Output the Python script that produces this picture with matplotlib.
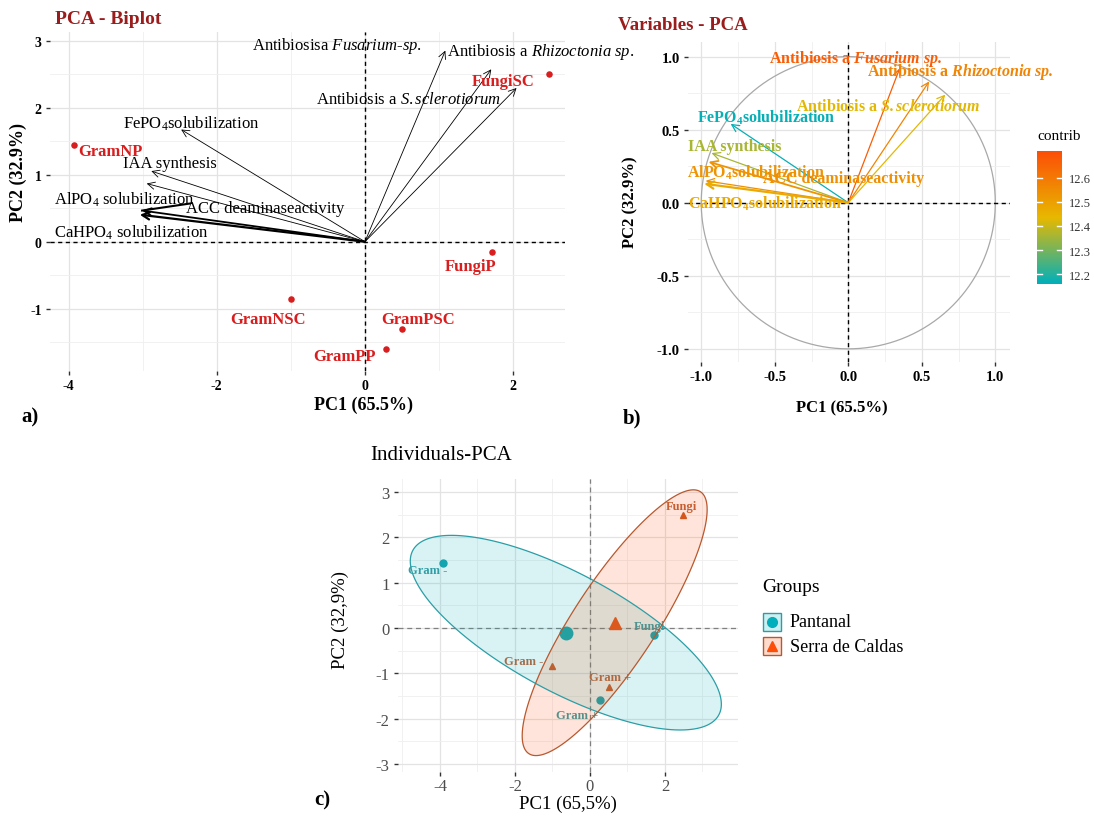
import numpy as np
import matplotlib
matplotlib.use("Agg")
import matplotlib.pyplot as plt
from matplotlib.colors import LinearSegmentedColormap, Normalize
from matplotlib.cm import ScalarMappable
from matplotlib.patches import Polygon, Rectangle
from matplotlib.lines import Line2D
from matplotlib.transforms import blended_transform_factory

plt.rcParams.update({
    "font.family": ["Liberation Serif", "DejaVu Serif"],
    "mathtext.fontset": "custom",
    "mathtext.rm": "Liberation Serif",
    "mathtext.it": "Liberation Serif:italic",
    "mathtext.bf": "Liberation Serif:bold",
    "mathtext.bfit": "Liberation Serif:bold:italic",
    "mathtext.default": "regular",
    "axes.unicode_minus": False,
})

# ---------------- data ----------------
ind_names = ["GramNP", "GramNSC", "GramPSC", "GramPP", "FungiSC", "FungiP"]
ind_type = ["Gram -", "Gram -", "Gram +", "Gram +", "Fungi", "Fungi"]
ind_group = ["Pantanal", "Serra de Caldas", "Serra de Caldas",
             "Pantanal", "Serra de Caldas", "Pantanal"]
ind_pc1 = [-3.93, -1.00, 0.50, 0.28, 2.48, 1.72]
ind_pc2 = [1.44, -0.85, -1.30, -1.60, 2.50, -0.15]

var_labels_a = [
    r"Antibiosisa $\mathit{Fusarium}$-$\mathit{sp.}$",
    r"Antibiosis a $\mathit{Rhizoctonia\ sp.}$",
    r"Antibiosis a $\mathit{S.sclerotiorum}$",
    r"FePO$_4$solubilization",
    r"IAA synthesis",
    r"AlPO$_4$ solubilization",
    r"ACC deaminaseactivity",
    r"CaHPO$_4$ solubilization",
]
var_labels_b = [
    r"Antibiosis a $\mathbfit{Fusarium\ sp.}$",
    r"Antibiosis a $\mathbfit{Rhizoctonia\ sp.}$",
    r"Antibiosis a $\mathbfit{S.sclerotiorum}$",
    r"FePO$_4$solubilization",
    r"IAA synthesis",
    r"AlPO$_4$solubilization",
    r"ACC deaminaseactivity",
    r"CaHPO$_4$solubilization",
]
var_pc1 = [0.35, 0.55, 0.66, -0.80, -0.93, -0.95, -0.97, -0.98]
var_pc2 = [0.92, 0.83, 0.74, 0.54, 0.34, 0.28, 0.15, 0.13]
var_contrib = [12.67, 12.57, 12.43, 12.17, 12.36, 12.53, 12.54, 12.47]

pc1_pct, pc2_pct = 65.5, 32.9
group_names = ["Pantanal", "Serra de Caldas"]

# ---------------- layout helpers ----------------
W, H = 1094, 820
fig = plt.figure(figsize=(W / 100, H / 100), dpi=100)


def add_ax(left, top, right, bottom):
    return fig.add_axes([left / W, 1 - bottom / H, (right - left) / W, (bottom - top) / H])


def ftext(x, y, s, **kw):
    return fig.text(x / W, 1 - y / H, s, **kw)


def minimal(ax, xmaj, xmin, ymaj, ymin, tickcolor="#333333"):
    ax.set_xticks(xmaj)
    ax.set_xticks(xmin, minor=True)
    ax.set_yticks(ymaj)
    ax.set_yticks(ymin, minor=True)
    ax.grid(which="major", color="#E3E3E3", lw=0.9)
    ax.grid(which="minor", color="#EFEFEF", lw=0.6)
    ax.set_axisbelow(True)
    for s in ax.spines.values():
        s.set_visible(False)
    ax.tick_params(which="minor", length=0)
    ax.tick_params(which="major", length=3, width=1.0, color=tickcolor, pad=3)


DARKRED = "#9B1C1C"
RED = "#D81E1E"

# ================= a) biplot =================
axA = add_ax(50, 33, 565, 372)
axA.set_xlim(-4.25, 2.7)
axA.set_ylim(-1.93, 3.13)
minimal(axA, [-4, -2, 0, 2], [-3, -1, 1], [-1, 0, 1, 2, 3],
        [-1.5, -0.5, 0.5, 1.5, 2.5])
for lab in axA.get_xticklabels() + axA.get_yticklabels():
    lab.set_fontweight("bold")
    lab.set_fontsize(10)
axA.axhline(0, color="black", ls=(0, (3, 2.5)), lw=1.0, zorder=2)
axA.axvline(0, color="black", ls=(0, (3, 2.5)), lw=1.0, zorder=2)

biplot_scale = 3.1
arrow_lw_a = [0.6, 0.6, 0.6, 0.6, 0.6, 0.6, 1.3, 1.6]
label_pos_a = [(-1.53, 2.93), (1.11, 2.84), (-0.66, 2.13), (-3.27, 1.78),
               (-3.27, 1.18), (-4.20, 0.64), (-2.41, 0.51), (-4.20, 0.15)]
for i, lab in enumerate(var_labels_a):
    tip = (var_pc1[i] * biplot_scale, var_pc2[i] * biplot_scale)
    axA.annotate("", xy=tip, xytext=(0, 0),
                 arrowprops=dict(arrowstyle="->", lw=arrow_lw_a[i], color="black",
                                 shrinkA=0, shrinkB=0, mutation_scale=13), zorder=3)
    axA.text(*label_pos_a[i], lab, fontsize=12, ha="left", va="center", zorder=4)
# leader from the ACC label to its arrow tip
acc = 6
axA.plot([label_pos_a[acc][0] + 0.05, var_pc1[acc] * biplot_scale],
         [label_pos_a[acc][1] + 0.06, var_pc2[acc] * biplot_scale],
         color="black", lw=1.5, zorder=3)

lab_off_a = {"GramNP": (0.06, -0.08, "left"), "GramNSC": (-0.31, -0.30, "center"),
             "GramPSC": (0.22, 0.15, "center"), "GramPP": (-0.55, -0.10, "center"),
             "FungiSC": (-0.62, -0.10, "center"), "FungiP": (-0.30, -0.22, "center")}
axA.scatter(ind_pc1, ind_pc2, s=22, color=RED, zorder=5, linewidths=0)
for n, x, y in zip(ind_names, ind_pc1, ind_pc2):
    dx, dy, ha = lab_off_a[n]
    axA.text(x + dx, y + dy, n, color=RED, fontsize=12, fontweight="bold",
             ha=ha, va="center", zorder=5)

ftext(55, 20, "PCA - Biplot", fontsize=14, fontweight="bold", color=DARKRED, va="center")
ftext(364, 405, f"PC1 ({pc1_pct}%)", fontsize=13, fontweight="bold", ha="center", va="center")
ftext(18, 172, f"PC2 ({pc2_pct}%)", fontsize=13, fontweight="bold", ha="center",
      va="center", rotation=90)
ftext(30, 417, "a)", fontsize=15, fontweight="bold", ha="center", va="center")

# ================= b) variables =================
cmap = LinearSegmentedColormap.from_list("contrib", ["#00AFBB", "#E7B800", "#FC4E07"])
norm = Normalize(12.16, 12.71)

axB = add_ax(688, 43, 1010, 363)
axB.set_xlim(-1.09, 1.10)
axB.set_ylim(-1.09, 1.10)
minimal(axB, [-1, -0.5, 0, 0.5, 1], [-0.75, -0.25, 0.25, 0.75],
        [-1, -0.5, 0, 0.5, 1], [-0.75, -0.25, 0.25, 0.75])
axB.set_xticklabels(["-1.0", "-0.5", "0.0", "0.5", "1.0"])
axB.set_yticklabels(["-1.0", "-0.5", "0.0", "0.5", "1.0"])
for lab in axB.get_xticklabels() + axB.get_yticklabels():
    lab.set_fontweight("bold")
    lab.set_fontsize(10.5)
th = np.linspace(0, 2 * np.pi, 300)
axB.plot(np.cos(th), np.sin(th), color="#A8A8A8", lw=0.9, zorder=2)
axB.axhline(0, color="black", ls=(0, (3, 2.5)), lw=1.0, zorder=2)
axB.axvline(0, color="black", ls=(0, (3, 2.5)), lw=1.0, zorder=2)

label_pos_b = [(0.05, 0.99), (0.76, 0.90), (0.27, 0.66), (-0.56, 0.59),
               (-0.77, 0.39), (-0.63, 0.21), (-0.03, 0.17), (-0.57, 0.00)]
arrow_lw_b = [0.9, 0.9, 0.9, 0.9, 0.9, 1.3, 0.9, 1.6]
for i, lab in enumerate(var_labels_b):
    col = cmap(norm(var_contrib[i]))
    axB.annotate("", xy=(var_pc1[i], var_pc2[i]), xytext=(0, 0),
                 arrowprops=dict(arrowstyle="->", lw=arrow_lw_b[i], color=col,
                                 shrinkA=0, shrinkB=0, mutation_scale=13), zorder=3)
    axB.text(*label_pos_b[i], lab, color=col, fontsize=11.5, fontweight="bold",
             ha="center", va="center", zorder=4)

cax = add_ax(1037, 152, 1062, 285)
cb = fig.colorbar(ScalarMappable(norm=norm, cmap=cmap), cax=cax,
                  ticks=[12.2, 12.3, 12.4, 12.5, 12.6])
cb.outline.set_visible(False)
cax.tick_params(length=0, labelsize=9, colors="#333333", pad=5)
btf = blended_transform_factory(cax.transAxes, cax.transData)
for t in [12.2, 12.3, 12.4, 12.5, 12.6]:
    cax.plot([0, 0.2], [t, t], color="white", lw=1.0, transform=btf)
    cax.plot([0.8, 1], [t, t], color="white", lw=1.0, transform=btf)
ftext(1037, 137, "contrib", fontsize=11, va="center")

ftext(618, 25, "Variables - PCA", fontsize=13.5, fontweight="bold", color=DARKRED, va="center")
ftext(842, 408, f"PC1 ({pc1_pct}%)", fontsize=12, fontweight="bold", ha="center", va="center")
ftext(630, 202, f"PC2 ({pc2_pct}%)", fontsize=12, fontweight="bold", ha="center",
      va="center", rotation=90)
ftext(632, 418, "b)", fontsize=15, fontweight="bold", ha="center", va="center")

# ================= c) individuals =================
axC = add_ax(398, 480, 738, 773)
axC.set_xlim(-5.12, 3.95)
axC.set_ylim(-3.18, 3.29)
minimal(axC, [-4, -2, 0, 2], [-5, -3, -1, 1, 3], [-3, -2, -1, 0, 1, 2, 3],
        [-2.5, -1.5, -0.5, 0.5, 1.5, 2.5], tickcolor="#333333")
axC.tick_params(which="major", labelsize=12, labelcolor="#4D4D4D")
axC.tick_params(axis="x", which="major", pad=1)
axC.axhline(0, color="#808080", ls=(0, (4, 3)), lw=0.9, zorder=2)
axC.axvline(0, color="#808080", ls=(0, (4, 3)), lw=0.9, zorder=2)

fill_col = {"Pantanal": "#00AFBB", "Serra de Caldas": "#FC4E07"}
edge_col = {"Pantanal": "#2A9EA6", "Serra de Caldas": "#B8582E"}
pt_col = {"Pantanal": "#16A3AD", "Serra de Caldas": "#D0571F"}
lab_col = {"Pantanal": "#3A9CA3", "Serra de Caldas": "#BF6238"}
marker = {"Pantanal": "o", "Serra de Caldas": "^"}

x_all = np.array(ind_pc1)
y_all = np.array(ind_pc2)
g_all = np.array(ind_group)


def confidence_ellipse(x, y, level=0.95, n=240):
    pts = np.column_stack([x, y])
    mu = pts.mean(axis=0)
    cov = np.cov(pts.T) / len(x)
    t = np.sqrt(-2 * np.log(1 - level))
    vals, vecs = np.linalg.eigh(cov)
    a = np.linspace(0, 2 * np.pi, n)
    circ = np.vstack([np.cos(a), np.sin(a)])
    return (mu[:, None] + t * vecs @ np.diag(np.sqrt(vals)) @ circ).T


lab_off_c = {"GramNP": (-0.40, -0.16), "GramNSC": (-0.78, 0.12),
             "GramPSC": (0.03, 0.22), "GramPP": (-0.63, -0.33),
             "FungiSC": (-0.05, 0.20), "FungiP": (-0.12, 0.20)}

for g in group_names:
    m = g_all == g
    axC.plot(x_all[m], y_all[m], ls="none", marker=marker[g], ms=5,
             color=pt_col[g], zorder=3)
    axC.plot(x_all[m].mean(), y_all[m].mean(), ls="none", marker=marker[g],
             ms=9, color=fill_col[g], zorder=3)
for n, t, g, x, y in zip(ind_names, ind_type, ind_group, ind_pc1, ind_pc2):
    dx, dy = lab_off_c[n]
    axC.text(x + dx, y + dy, t, color=lab_col[g], fontsize=9, fontweight="bold",
             ha="center", va="center", zorder=3)
for g in group_names:
    m = g_all == g
    ell = confidence_ellipse(x_all[m], y_all[m])
    axC.add_patch(Polygon(ell, closed=True, fc=fill_col[g], alpha=0.15, ec="none", zorder=4))
    axC.add_patch(Polygon(ell, closed=True, fc="none", ec=edge_col[g], lw=0.9, zorder=5))

ftext(370, 455, "Individuals-PCA", fontsize=15, va="center")
ftext(568, 804, "PC1 (65,5%)", fontsize=13.5, ha="center", va="center")
ftext(340, 620, "PC2 (32,9%)", fontsize=13.5, ha="center", va="center", rotation=90)
ftext(322, 800, "c)", fontsize=15, fontweight="bold", ha="center", va="center")

# legend
ftext(762, 588, "Groups", fontsize=14, va="center")
for k, g in enumerate(group_names):
    yc = 623 + 24 * k
    fig.add_artist(Rectangle((763 / W, 1 - (yc + 9) / H), 18 / W, 18 / H,
                             transform=fig.transFigure, fc=fill_col[g], alpha=0.2,
                             ec="none"))
    fig.add_artist(Rectangle((763 / W, 1 - (yc + 9) / H), 18 / W, 18 / H,
                             transform=fig.transFigure, fc="none", ec=edge_col[g], lw=1.0))
    fig.add_artist(Line2D([772 / W], [1 - yc / H], marker=marker[g], ms=7,
                          color=fill_col[g], ls="none", transform=fig.transFigure))
    ftext(790, yc, g, fontsize=13, va="center")

fig.savefig("out.png", dpi=100)
